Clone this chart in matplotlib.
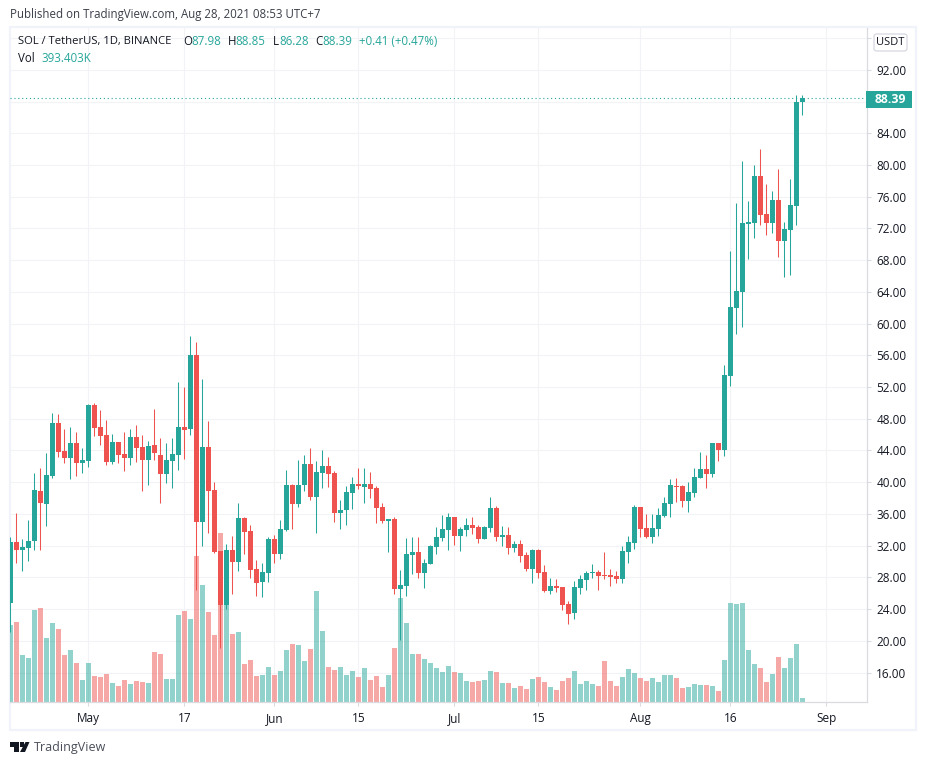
import matplotlib
matplotlib.use("Agg")
import matplotlib.dates as mdates
import matplotlib.pyplot as plt
from matplotlib.patches import FancyBboxPatch, Polygon, Rectangle
import pandas as pd

# daily candles from Apr 18 to Aug 28 2021
dates = pd.date_range("2021-04-18", "2021-08-28")

opens = [24.82, 32.51, 31.46, 31.72, 32.60, 38.90, 37.26, 40.79, 47.47, 43.94, 43.06, 44.95, 42.43,
         42.68, 49.74, 46.97, 45.96, 42.55, 45.08, 43.57, 43.06, 45.71, 44.45, 42.81, 44.70, 43.44, 41.04, 42.68,
         43.44, 46.97, 46.71, 56.04, 34.99, 44.45, 39.03, 31.33, 24.53, 31.46, 29.95, 35.50, 33.86, 29.07, 27.43, 28.56,
         32.85, 30.93, 33.96, 39.63, 37.24, 39.63, 42.28, 38.12, 41.14, 42.03, 41.14, 36.10, 36.48, 38.62, 39.76,
         39.38, 39.76, 39.25, 36.86, 35.09, 35.34, 26.52, 26.90, 30.80, 31.18, 28.54, 29.67, 31.82, 32.95, 33.96,
         35.60, 33.20, 33.96, 34.59, 34.34, 32.82, 34.21, 36.73, 33.08, 33.33, 31.69, 32.19, 30.81, 29.04, 31.44, 28.66,
         26.27, 26.90, 26.77, 24.63, 23.50, 26.65, 27.66, 28.54, 28.66, 28.29, 28.29, 28.16, 27.78, 31.18, 32.32,
         36.86, 34.21, 33.08, 34.08, 35.72, 37.24, 39.50, 39.50, 37.61, 38.62, 40.51, 41.65, 41.02, 44.92, 44.08,
         53.41, 61.98, 64.00, 72.57, 72.70, 78.62, 73.83, 72.70, 75.60, 70.43, 71.82, 74.84, 87.98]
highs = [33.14, 36.17, 32.85, 35.24, 41.17, 41.80, 43.69, 48.73, 48.60, 46.71, 46.97, 46.34, 44.32,
         49.87, 49.99, 49.11, 47.85, 46.08, 45.08, 46.34, 46.71, 47.22, 45.96, 45.20, 49.24, 45.58, 44.95, 45.58,
         52.63, 52.00, 58.44, 57.68, 53.02, 47.72, 40.03, 31.33, 32.20, 33.22, 37.39, 35.62, 34.60, 30.20, 29.82, 33.10,
         33.35, 35.22, 41.52, 39.76, 42.78, 43.41, 44.29, 42.66, 44.04, 43.16, 41.40, 37.74, 39.50, 40.64, 41.77,
         41.77, 41.27, 39.50, 37.36, 35.34, 35.60, 28.92, 32.95, 33.08, 33.08, 30.30, 32.07, 34.34, 35.85, 36.10,
         35.60, 34.34, 35.47, 35.60, 34.59, 34.46, 38.12, 36.98, 34.46, 34.34, 32.57, 32.70, 31.18, 31.56, 31.56, 29.55,
         27.91, 27.78, 26.77, 25.01, 27.53, 28.29, 28.79, 29.67, 28.92, 31.18, 29.04, 28.79, 31.94, 33.20, 37.11,
         36.86, 35.97, 35.97, 36.73, 38.12, 40.39, 40.51, 39.63, 40.01, 41.77, 43.79, 43.41, 44.92, 44.92, 54.80,
         69.17, 75.22, 80.51, 75.47, 80.01, 82.03, 77.61, 76.73, 79.50, 72.82, 78.24, 88.83, 88.85]
lows = [21.17, 29.87, 28.85, 30.10, 31.46, 31.46, 34.49, 40.54, 43.18, 42.43, 40.41, 40.79, 41.17,
        41.92, 45.83, 44.70, 42.18, 42.30, 42.43, 41.42, 42.18, 42.55, 38.90, 39.66, 42.81, 37.39, 39.90, 39.28,
        41.55, 42.93, 45.96, 26.42, 31.97, 33.60, 31.08, 19.10, 24.00, 25.92, 28.83, 30.97, 27.93, 25.67, 25.55, 27.43,
        29.82, 30.30, 33.83, 34.08, 36.86, 38.87, 37.74, 33.58, 39.25, 39.38, 34.97, 34.08, 34.59, 36.60, 39.13,
        37.36, 37.99, 34.84, 34.84, 31.18, 25.89, 20.09, 25.64, 28.41, 27.91, 26.65, 29.67, 30.93, 32.57, 31.44,
        32.07, 31.31, 33.20, 33.45, 32.32, 32.82, 33.71, 32.57, 31.94, 30.93, 31.18, 29.92, 28.79, 27.28, 27.91, 26.14,
        25.89, 26.14, 23.87, 22.11, 22.74, 25.89, 26.40, 27.91, 26.40, 27.78, 26.90, 27.28, 27.28, 29.80, 31.56,
        33.08, 32.95, 32.32, 33.20, 35.60, 35.60, 37.49, 36.86, 36.23, 38.12, 40.51, 39.25, 40.64, 42.66, 43.33,
        52.15, 58.75, 59.59, 68.16, 70.81, 72.45, 71.18, 71.44, 68.41, 65.89, 66.14, 72.45, 86.28]
closes = [32.51, 31.46, 31.84, 32.60, 39.03, 37.39, 40.92, 47.47, 43.82, 43.06, 44.95, 42.43, 42.81,
          49.74, 46.84, 45.83, 42.55, 45.08, 43.44, 43.06, 45.71, 44.32, 42.81, 44.57, 43.69, 41.04, 42.81, 43.57,
          46.97, 46.59, 56.04, 34.99, 44.45, 38.90, 31.20, 24.53, 31.46, 29.95, 35.50, 33.73, 28.94, 27.30, 28.69, 32.85,
          30.97, 34.08, 39.63, 37.24, 39.63, 42.28, 38.12, 41.27, 42.03, 41.02, 36.10, 36.48, 38.75, 39.76, 39.50,
          39.76, 39.13, 36.73, 35.09, 35.34, 26.52, 27.03, 30.93, 31.18, 28.54, 29.80, 31.94, 33.08, 34.08, 35.60,
          33.20, 34.08, 34.59, 34.20, 32.82, 34.34, 36.73, 33.08, 33.33, 31.69, 32.19, 30.68, 29.04, 31.44, 28.54, 26.27,
          26.90, 26.65, 24.50, 23.37, 26.77, 27.78, 28.54, 28.66, 28.16, 28.16, 28.03, 27.78, 31.31, 32.45, 36.86,
          34.08, 33.08, 34.21, 35.85, 37.36, 39.63, 39.38, 37.61, 38.75, 40.64, 41.65, 41.02, 44.92, 44.04, 53.54,
          62.11, 64.13, 72.70, 72.82, 78.62, 73.71, 72.70, 75.60, 70.43, 71.94, 74.97, 87.95, 88.39]
# volume in thousands
volumes = [6930, 7200, 4230, 3960, 8280, 8460, 5760, 7110, 6570, 4230, 4680, 3510, 1980,
           3510, 2340, 2250, 2520, 1710, 1440, 1980, 1620, 1890, 1800, 1710, 4500, 4320, 2070, 2070,
           7830, 8190, 7470, 13140, 10530, 8100, 6030, 15210, 8730, 6120, 6300, 3420, 3780, 2340, 2430, 3150,
           2440, 2820, 4710, 5250, 5160, 3720, 4800, 10020, 6420, 3180, 2910, 3180, 2460, 2820, 2280,
           3090, 2010, 2370, 1380, 2460, 4890, 9390, 7140, 4350, 4350, 3900, 3540, 3090, 2730, 3270,
           2730, 2640, 1920, 1830, 1920, 2010, 2820, 2730, 1740, 1740, 1290, 1470, 1200, 2100, 2280, 1830,
           1380, 1110, 1920, 2190, 2820, 1650, 1920, 1650, 1470, 3720, 1920, 1470, 2280, 3000, 2640,
           2190, 1920, 2190, 1830, 2460, 2460, 2190, 1290, 1380, 1650, 1560, 1560, 1470, 1020, 3810,
           8940, 8850, 8940, 4710, 3450, 3090, 1830, 2550, 4080, 3090, 3990, 5250, 393.403]

price_ticks = [16, 20, 24, 28, 32, 36, 40, 44, 48, 52, 56, 60, 64, 68, 72, 76, 80, 84, 88, 92, 96]
hidden_ticks = [88, 96]  # covered by the price tag and the currency button
time_ticks = ["2021-05-01", "2021-05-17", "2021-06-01", "2021-06-15", "2021-07-01",
              "2021-07-15", "2021-08-01", "2021-08-16", "2021-09-01"]
time_labels = ["May", "17", "Jun", "15", "Jul", "15", "Aug", "16", "Sep"]

UP = "#26a69a"
DOWN = "#ef5350"
TEXT = "#131722"
GRID = "#f1f3f6"
LINE = "#d9dbe0"
W, H = 926, 765

plt.rcParams["font.family"] = ["Open Sans", "DejaVu Sans"]
plt.rcParams["font.size"] = 8.3


def px(x, y):
    return x / W, 1 - y / H


def label(x, y, s, color=TEXT, **kw):
    fig.text(*px(x, y), s, color=color, va="center", **kw)


fig = plt.figure(figsize=(W / 100, H / 100), dpi=100)
rect = [10 / W, 1 - 702 / H, 856.5 / W, 674 / H]

# three layers so the volume sits over the grid and under the candles
ax_grid = fig.add_axes(rect, zorder=0)
ax_vol = fig.add_axes(rect, zorder=1, facecolor="none")
ax = fig.add_axes(rect, zorder=2, facecolor="none")

x = mdates.date2num(dates)
may1 = mdates.date2num(pd.Timestamp("2021-05-01"))
xlim = (may1 - 78.3 / 6, may1 + 778.2 / 6)
ylim = (12.28, 97.28)
tick_x = mdates.date2num(pd.to_datetime(time_ticks))

colors = [UP if c >= o else DOWN for o, c in zip(opens, closes)]
bottoms = [min(o, c) for o, c in zip(opens, closes)]
heights = [max(abs(c - o), 0.13) for o, c in zip(opens, closes)]

ax_grid.set_xlim(xlim)
ax_grid.set_ylim(ylim)
ax_grid.set_xticks(tick_x)
ax_grid.set_yticks(price_ticks)
ax_grid.grid(color=GRID, lw=0.8)
ax_grid.tick_params(length=0, labelleft=False, labelbottom=False)
for s in ax_grid.spines.values():
    s.set_visible(False)

ax_vol.bar(x, volumes, width=0.83, color=colors, alpha=0.5, lw=0)
ax_vol.set_xlim(xlim)
ax_vol.set_ylim(0, 674 * 90)
ax_vol.axis("off")

ax.vlines(x, lows, highs, colors=colors, lw=0.75)
ax.bar(x, heights, bottom=bottoms, width=0.83, color=colors, lw=0)
ax.axhline(closes[-1], color=UP, lw=0.8, ls=(0, (1, 2.5)))
ax.set_xlim(xlim)
ax.set_ylim(ylim)
ax.set_xticks(tick_x)
ax.set_xticklabels(time_labels, fontsize=8.5)
ax.yaxis.tick_right()
ax.set_yticks(price_ticks)
ax.set_yticklabels(["" if p in hidden_ticks else f"{p:.2f}" for p in price_ticks], fontsize=8.5)
ax.tick_params(axis="x", length=3, width=0.8, color=LINE, labelcolor=TEXT, pad=4)
ax.tick_params(axis="y", length=3, width=0.8, color=LINE, labelcolor=TEXT, pad=4)
for name in ["top", "left"]:
    ax.spines[name].set_visible(False)
for name in ["right", "bottom"]:
    ax.spines[name].set_color(LINE)
    ax.spines[name].set_linewidth(0.9)

# outer frame of the widget
x0, y0 = px(9.5, 730)
fig.add_artist(Rectangle((x0, y0), 906 / W, 703 / H, transform=fig.transFigure,
                         fill=False, ec="#f0f3fa", lw=1.6))

# last price tag
x0, y0 = px(866, 108)
fig.add_artist(Rectangle((x0, y0), 46 / W, 17 / H, transform=fig.transFigure,
                         fc=UP, ec="none", zorder=5))
fig.text(*px(875, 99.5), "88.39", color="white", va="center", fontweight="bold", fontsize=8.8, zorder=6)

# currency button
x0, y0 = px(874, 51)
fig.add_artist(FancyBboxPatch((x0, y0), 33 / W, 17 / H, transform=fig.transFigure,
                              boxstyle="round,pad=0,rounding_size=0.003",
                              fc="white", ec="#d6d8e0", lw=0.9, zorder=5))
fig.text(*px(890.5, 42.5), "USDT", color=TEXT, va="center", ha="center", fontsize=8, zorder=6)

# header
label(10, 14.5, "Published on TradingView.com, Aug 28, 2021 08:53 UTC+7", color="#3a3e49")
label(18, 41.5, "SOL / TetherUS, 1D, BINANCE", fontsize=8.1)
for xt, s, c in [(183, "O", TEXT), (191, "87.98", UP), (228, "H", TEXT), (235, "88.85", UP),
                 (273, "L", TEXT), (279, "86.28", UP), (315, "C", TEXT), (322, "88.39", UP),
                 (359, "+0.41 (+0.47%)", UP)]:
    label(xt, 41.5, s, color=c)
label(18, 59, "Vol")
label(41, 59, "393.403K", color=UP)

# logo at the bottom
logo = "#131722"
fig.add_artist(Polygon([px(10, 742), px(19, 742), px(19, 752), px(14, 752), px(14, 746.5), px(10, 746.5)],
                       transform=fig.transFigure, fc=logo, ec="none"))
fig.add_artist(Polygon([px(25.5, 742), px(29.5, 742), px(25, 752), px(20, 752)],
                       transform=fig.transFigure, fc=logo, ec="none"))
fig.add_artist(Rectangle(px(20, 746.5), 3.5 / W, 4.5 / H, transform=fig.transFigure, fc=logo, ec="none"))
label(33.5, 747.5, "TradingView", color="#4a4e59", fontsize=9)

fig.savefig("out.png", dpi=100)
